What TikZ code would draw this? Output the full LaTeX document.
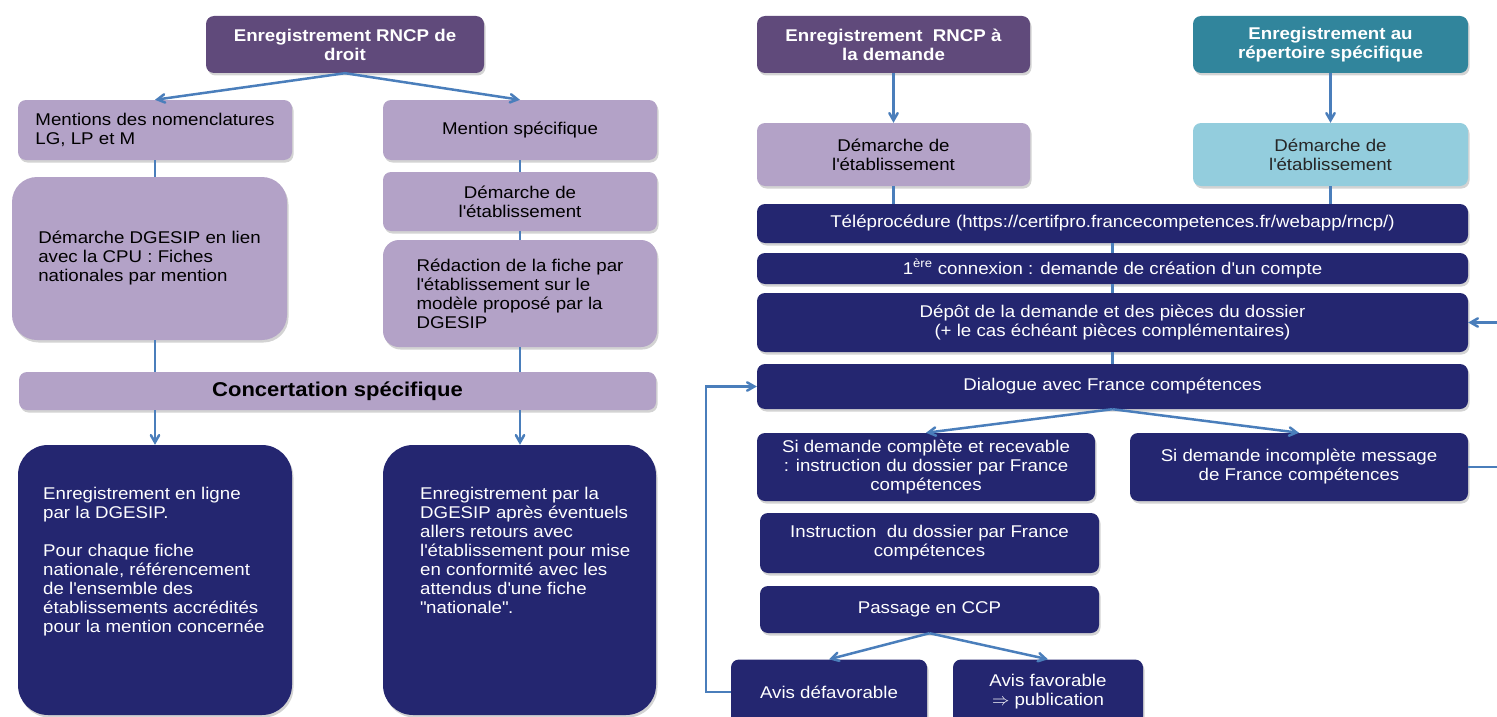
\documentclass[tikz,border=0pt]{standalone}
\usepackage{fontspec}
\setmainfont[FakeStretch=1.1]{Liberation Sans}
\usetikzlibrary{arrows, shadows}

\definecolor{darkpurple}{RGB}{96,74,123}
\definecolor{lilacfill}{RGB}{179,162,199}
\definecolor{navyfill}{RGB}{36,38,112}
\definecolor{tealfill}{RGB}{49,133,156}
\definecolor{palecyan}{RGB}{147,205,221}
\definecolor{linkblue}{RGB}{74,126,187}

\newcommand{\boxfont}{\fontsize{17}{19}\selectfont}
\newcommand{\ap}{\textquotesingle}

\tikzstyle{card} = [rectangle, rounded corners=8pt, inner sep=0pt, align=center, font=\boxfont, drop shadow={shadow xshift=1.5pt, shadow yshift=-2.5pt, opacity=.35}]
\tikzstyle{title} = [card, fill=darkpurple, text=white, font=\boxfont\bfseries]
\tikzstyle{tealtitle} = [card, fill=tealfill, text=white, font=\boxfont\bfseries]
\tikzstyle{lilac} = [card, fill=lilacfill, text=black]
\tikzstyle{cyanbox} = [card, fill=palecyan, text=black!85]
\tikzstyle{navybox} = [card, fill=navyfill, text=white]
\tikzstyle{bodytext} = [inner sep=0pt, anchor=north west, align=left, text=white, font=\boxfont]
\tikzstyle{link} = [line width=2.5pt, draw=linkblue]
\tikzstyle{arrow} = [link, ->, >=angle 60]

\begin{document}
\begin{tikzpicture}[x=1pt, y=-1pt]

    \useasboundingbox (0,0) rectangle (1497,717);

    % left part : enregistrement de droit
    \node (droit) [title, minimum width=278pt, minimum height=57pt] at (345,44.5) {Enregistrement RNCP de\\droit};
    \node (nomencl) [lilac, align=left, minimum width=274pt, minimum height=60pt] at (155,130) {Mentions des nomenclatures\\LG, LP et M};
    \node (specif) [lilac, minimum width=274pt, minimum height=60pt] at (520,130) {Mention spécifique};
    \node (dgesip) [lilac, align=left, rounded corners=25pt, minimum width=275pt, minimum height=163pt] at (149.5,258.5) {Démarche DGESIP en lien\\avec la CPU : Fiches\\nationales par mention};
    \node (etabA) [lilac, minimum width=274pt, minimum height=59pt] at (520,201.5) {Démarche de\\l\ap établissement};
    \node (redac) [lilac, align=left, rounded corners=16pt, minimum width=274pt, minimum height=107pt] at (520,293.5) {Rédaction de la fiche par\\l\ap établissement sur le\\modèle proposé par la\\DGESIP};
    \node (concert) [lilac, font=\fontsize{20}{22}\selectfont\bfseries, minimum width=637pt, minimum height=38pt] at (337.5,391) {Concertation spécifique};
    \node (enligne) [navybox, rounded corners=30pt, minimum width=274pt, minimum height=270pt] at (155,580) {};
    \node (enlignetxt) [bodytext] at (43,487) {Enregistrement en ligne\\par la DGESIP.\\[19pt]Pour chaque fiche\\nationale, référencement\\de l\ap ensemble des\\établissements accrédités\\pour la mention concernée};
    \node (apres) [navybox, rounded corners=30pt, minimum width=273pt, minimum height=270pt] at (519.5,580) {};
    \node (aprestxt) [bodytext] at (420,487) {Enregistrement par la\\DGESIP après éventuels\\allers retours avec\\l\ap établissement pour mise\\en conformité avec les\\attendus d\ap une fiche\\\textquotedbl nationale\textquotedbl.};

    % right part : enregistrement a la demande / repertoire specifique
    \node (demande) [title, minimum width=273pt, minimum height=57pt] at (893.5,44.5) {Enregistrement \ RNCP à\\la demande};
    \node (repert) [tealtitle, minimum width=275pt, minimum height=57pt] at (1330.5,44.5) {Enregistrement au\\répertoire spécifique};
    \node (etabB) [lilac, minimum width=273pt, minimum height=63pt] at (893.5,154.5) {Démarche de\\l\ap établissement};
    \node (etabC) [cyanbox, minimum width=275pt, minimum height=63pt] at (1330.5,154.5) {Démarche de\\l\ap établissement};
    \node (telep) [navybox, minimum width=711pt, minimum height=39pt] at (1112.5,223.5) {Téléprocédure (https://certifpro.francecompetences.fr/webapp/rncp/)};
    \node (connex) [navybox, minimum width=711pt, minimum height=31pt] at (1112.5,268.5) {1\textsuperscript{ère} connexion : demande de création d\ap un compte};
    \node (depot) [navybox, minimum width=711pt, minimum height=59pt] at (1112.5,322.5) {Dépôt de la demande et des pièces du dossier\\(+ le cas échéant pièces complémentaires)};
    \node (dialog) [navybox, minimum width=711pt, minimum height=45pt] at (1112.5,386.5) {Dialogue avec France compétences};
    \node (complete) [navybox, minimum width=338pt, minimum height=68pt] at (926,467) {Si demande complète et recevable\\: instruction du dossier par France\\compétences};
    \node (incompl) [navybox, minimum width=338pt, minimum height=68pt] at (1299,467) {Si demande incomplète message\\de France compétences};
    \node (instruc) [navybox, minimum width=339pt, minimum height=60pt] at (929.5,543) {Instruction \ du dossier par France\\compétences};
    \node (ccp) [navybox, minimum width=339pt, minimum height=47pt] at (929.5,609.5) {Passage en CCP};
    \node (defav) [navybox, minimum width=196pt, minimum height=65pt] at (829,692) {Avis défavorable};
    \node (fav) [navybox, minimum width=190pt, minimum height=65pt] at (1048,692) {Avis favorable\\$\Rightarrow$ publication};

    % connectors left
    \draw [arrow] (droit.south) -- (nomencl.north);
    \draw [arrow] (droit.south) -- (specif.north);
    \draw [link] (nomencl.south) -- (nomencl.south |- dgesip.north);
    \draw [link] (nomencl.south |- dgesip.south) -- (nomencl.south |- concert.north);
    \draw [link] (specif.south) -- (etabA.north);
    \draw [link] (etabA.south) -- (redac.north);
    \draw [link] (redac.south) -- (redac.south |- concert.north);
    \draw [arrow] (nomencl.south |- concert.south) -- (nomencl.south |- enligne.north);
    \draw [arrow] (specif.south |- concert.south) -- (specif.south |- apres.north);

    % connectors right
    \draw [arrow] (demande.south) -- (etabB.north);
    \draw [arrow] (repert.south) -- (etabC.north);
    \draw [link] (etabB.south) -- (etabB.south |- telep.north);
    \draw [link] (etabC.south) -- (etabC.south |- telep.north);
    \draw [link] (telep.south) -- (connex.north);
    \draw [link] (connex.south) -- (depot.north);
    \draw [link] (depot.south) -- (dialog.north);
    \draw [arrow] (dialog.south) -- (complete.north);
    \draw [arrow] (dialog.south) -- (incompl.north);
    \draw [arrow] (ccp.south) -- (defav.north);
    \draw [arrow] (ccp.south) -- (fav.north);
    \draw [arrow] (defav.west) -- ++(-25,0) |- (dialog.west);
    \draw [arrow] (incompl.east) -- ++(60,0) |- (depot.east);

\end{tikzpicture}
\end{document}
